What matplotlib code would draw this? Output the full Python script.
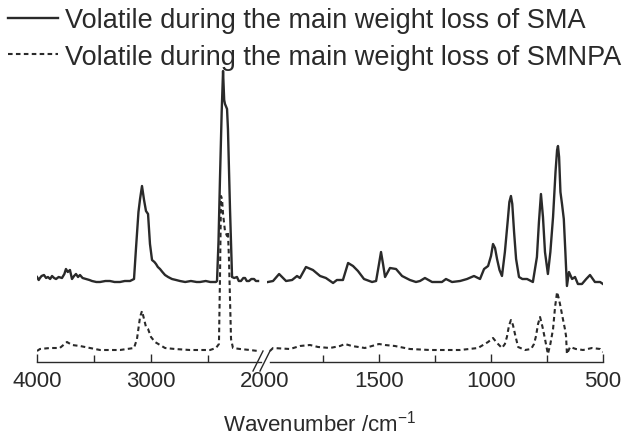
import matplotlib
matplotlib.use('Agg')
import matplotlib.pyplot as plt
from matplotlib.lines import Line2D

plt.rcParams['font.family'] = ['Liberation Sans', 'DejaVu Sans']
plt.rcParams['mathtext.default'] = 'regular'

# SMA volatile, 4000-2060 cm-1 part
SMA_WN_HIGH = [4000, 3985, 3974, 3960, 3939, 3920, 3904, 3885, 3868, 3850, 3833, 3810,
               3781, 3760, 3746, 3730, 3711, 3693, 3675, 3658, 3640, 3623, 3600, 3570,
               3540, 3518, 3480, 3447, 3400, 3360, 3320, 3272, 3230, 3184, 3149, 3132,
               3110, 3096, 3079, 3061, 3044, 3026, 3009, 2991, 2970, 2956, 2940, 2921,
               2900, 2877, 2850, 2816, 2780, 2746, 2700, 2650, 2600, 2570, 2520, 2480,
               2430, 2421, 2408, 2395, 2380, 2368, 2358, 2351, 2340, 2333, 2325, 2307,
               2289, 2270, 2246, 2230, 2211, 2190, 2175, 2160, 2140, 2120, 2096, 2080, 2061]
SMA_ABS_HIGH = [0.85, 0.82, 0.84, 0.86, 0.87, 0.84, 0.85, 0.83, 0.86, 0.84, 0.83, 0.85,
                0.84, 0.88, 0.93, 0.90, 0.92, 0.83, 0.86, 0.88, 0.85, 0.87, 0.84, 0.83,
                0.82, 0.81, 0.80, 0.80, 0.81, 0.81, 0.80, 0.80, 0.81, 0.81, 0.83, 1.13,
                1.50, 1.63, 1.76, 1.62, 1.51, 1.48, 1.18, 1.02, 1.00, 0.98, 0.95, 0.93,
                0.90, 0.87, 0.85, 0.83, 0.82, 0.81, 0.80, 0.81, 0.80, 0.80, 0.81, 0.80,
                0.80, 0.81, 1.20, 1.83, 2.50, 2.91, 2.62, 2.58, 2.55, 2.53, 2.33, 1.53,
                0.85, 0.84, 0.85, 0.81, 0.81, 0.84, 0.84, 0.81, 0.81, 0.83, 0.83, 0.81, 0.81]

# SMA volatile, 2000-500 cm-1 part
SMA_WN_LOW = [1996, 1973, 1946, 1915, 1888, 1866, 1853, 1826, 1795, 1763, 1737, 1705,
              1688, 1661, 1638, 1616, 1594, 1567, 1531, 1513, 1500, 1491, 1482, 1473, 1451,
              1424, 1397, 1362, 1335, 1317, 1295, 1263, 1219, 1201, 1174, 1138, 1107,
              1076, 1049, 1031, 1013, 1000, 991, 982, 973, 962, 951, 938, 925, 918, 911,
              905, 897, 888, 875, 860, 839, 813, 795, 786, 777, 768, 759, 746, 735,
              723, 712, 705, 701, 696, 690, 683, 675, 668, 665, 661, 652, 638, 625,
              612, 594, 575, 558, 536, 513, 500]
SMA_ABS_LOW = [0.80, 0.81, 0.88, 0.81, 0.82, 0.86, 0.84, 0.95, 0.92, 0.86, 0.84, 0.79,
               0.82, 0.82, 0.99, 0.96, 0.91, 0.83, 0.80, 0.81, 0.98, 1.10, 0.98, 0.85,
               0.94, 0.93, 0.86, 0.82, 0.80, 0.81, 0.84, 0.80, 0.80, 0.83, 0.80, 0.81,
               0.83, 0.86, 0.83, 0.93, 0.96, 1.06, 1.18, 1.14, 1.03, 0.92, 0.86, 1.10,
               1.42, 1.60, 1.66, 1.58, 1.30, 1.03, 0.85, 0.83, 0.83, 0.80, 1.05, 1.40,
               1.68, 1.45, 1.10, 0.88, 1.10, 1.45, 1.90, 2.12, 2.16, 2.05, 1.70, 1.58,
               1.43, 1.10, 0.95, 0.76, 0.90, 0.83, 0.85, 0.78, 0.78, 0.83, 0.87, 0.80,
               0.80, 0.78]

# SMNPA volatile, 4000-2060 cm-1 part
SMNPA_WN_HIGH = [4000, 3974, 3886, 3800, 3737, 3693, 3623, 3535, 3447, 3272, 3149, 3123,
                 3096, 3079, 3061, 3044, 3026, 3000, 2965, 2921, 2877, 2790, 2658, 2482,
                 2430, 2404, 2395, 2386, 2377, 2368, 2351, 2333, 2325, 2316, 2307, 2298,
                 2281, 2219, 2132, 2061]
SMNPA_ABS_HIGH = [0.11, 0.13, 0.14, 0.14, 0.20, 0.17, 0.16, 0.14, 0.12, 0.12, 0.14, 0.23,
                  0.45, 0.51, 0.43, 0.35, 0.33, 0.25, 0.20, 0.17, 0.14, 0.13, 0.12, 0.12,
                  0.14, 0.18, 0.83, 1.66, 1.63, 1.48, 1.31, 1.26, 1.30, 1.03, 0.63, 0.23,
                  0.14, 0.13, 0.12, 0.11]

# SMNPA volatile, 2000-500 cm-1 part
SMNPA_WN_LOW = [1987, 1973, 1897, 1853, 1808, 1772, 1719, 1674, 1652, 1621, 1563, 1500,
                1473, 1429, 1362, 1272, 1138, 1058, 1013, 991, 973, 951, 938, 929, 920,
                911, 902, 893, 879, 848, 821, 808, 799, 790, 781, 770, 759, 746, 735,
                723, 714, 705, 698, 692, 679, 670, 665, 661, 647, 621, 589, 549, 513, 500]
SMNPA_ABS_LOW = [0.11, 0.14, 0.13, 0.16, 0.17, 0.15, 0.14, 0.16, 0.18, 0.16, 0.14, 0.18,
                 0.17, 0.16, 0.13, 0.12, 0.12, 0.14, 0.20, 0.24, 0.19, 0.14, 0.18, 0.25,
                 0.36, 0.42, 0.37, 0.28, 0.15, 0.12, 0.13, 0.18, 0.26, 0.38, 0.45, 0.35,
                 0.23, 0.08, 0.18, 0.33, 0.55, 0.70, 0.64, 0.58, 0.43, 0.33, 0.26, 0.08,
                 0.15, 0.13, 0.12, 0.14, 0.13, 0.10]

LABELS = ['Volatile during the main weight loss of SMA',
          'Volatile during the main weight loss of SMNPA']

W, H = 638, 439
INK = '#2a2a2a'
DASH = (0, (2.2, 1.6))


def style_axis(ax, major, minor, bounds):
    """Only the bottom axis line with inward ticks"""
    for side in ('top', 'left', 'right'):
        ax.spines[side].set_visible(False)
    ax.spines['bottom'].set_bounds(*bounds)
    ax.spines['bottom'].set_linewidth(1.0)
    ax.spines['bottom'].set_color(INK)
    ax.set_facecolor('none')
    ax.set_yticks([])
    ax.set_xticks(major)
    ax.set_xticks(minor, minor=True)
    ax.tick_params(axis='x', which='both', direction='in', color=INK, width=1.0,
                   labelsize=16, labelcolor=INK, pad=6)
    ax.tick_params(axis='x', which='major', length=6)
    ax.tick_params(axis='x', which='minor', length=5)
    ax.set_ylim(0, 3.08)


fig = plt.figure(figsize=(W / 100, H / 100), dpi=100)
bottom = (H - 363) / H
height = (363 - 55) / H
ax_l = fig.add_axes([37 / W, bottom, 228 / W, height])
ax_r = fig.add_axes([267 / W, bottom, 336 / W, height])

l1, = ax_l.plot(SMA_WN_HIGH, SMA_ABS_HIGH, color=INK, lw=1.7)
l2, = ax_l.plot(SMNPA_WN_HIGH, SMNPA_ABS_HIGH, color=INK, lw=1.5, linestyle=DASH)
ax_r.plot(SMA_WN_LOW, SMA_ABS_LOW, color=INK, lw=1.7)
ax_r.plot(SMNPA_WN_LOW, SMNPA_ABS_LOW, color=INK, lw=1.5, linestyle=DASH)

ax_l.set_xlim(4000, 2000)
ax_r.set_xlim(2000, 500)
style_axis(ax_l, [4000, 3000, 2000], [3500, 2500], (4000, 2035))
style_axis(ax_r, [1500, 1000, 500], [1750, 1250, 750], (1987, 500))
# the 2000 label sits on the break, no tick mark there
ax_l.xaxis.get_major_ticks()[2].tick1line.set_visible(False)

# break marks
for x0 in (253, 260):
    fig.add_artist(Line2D([x0 / W, (x0 + 10) / W], [1 - 372 / H, 1 - 352 / H],
                          color=INK, lw=1.0))

fig.text(320 / W, 1 - 432 / H, 'Wavenumber /cm$^{-1}$', ha='center', va='baseline',
         fontsize=16, color=INK)

fig.legend([l1, l2], LABELS, loc='upper left', bbox_to_anchor=(4 / W, 1 - 4 / H),
           frameon=False, fontsize=19.5, handlelength=1.85, handletextpad=0.25,
           labelspacing=0.4, borderaxespad=0.0, borderpad=0.15, labelcolor=INK)

fig.savefig('out.png', dpi=100)
plt.close(fig)
